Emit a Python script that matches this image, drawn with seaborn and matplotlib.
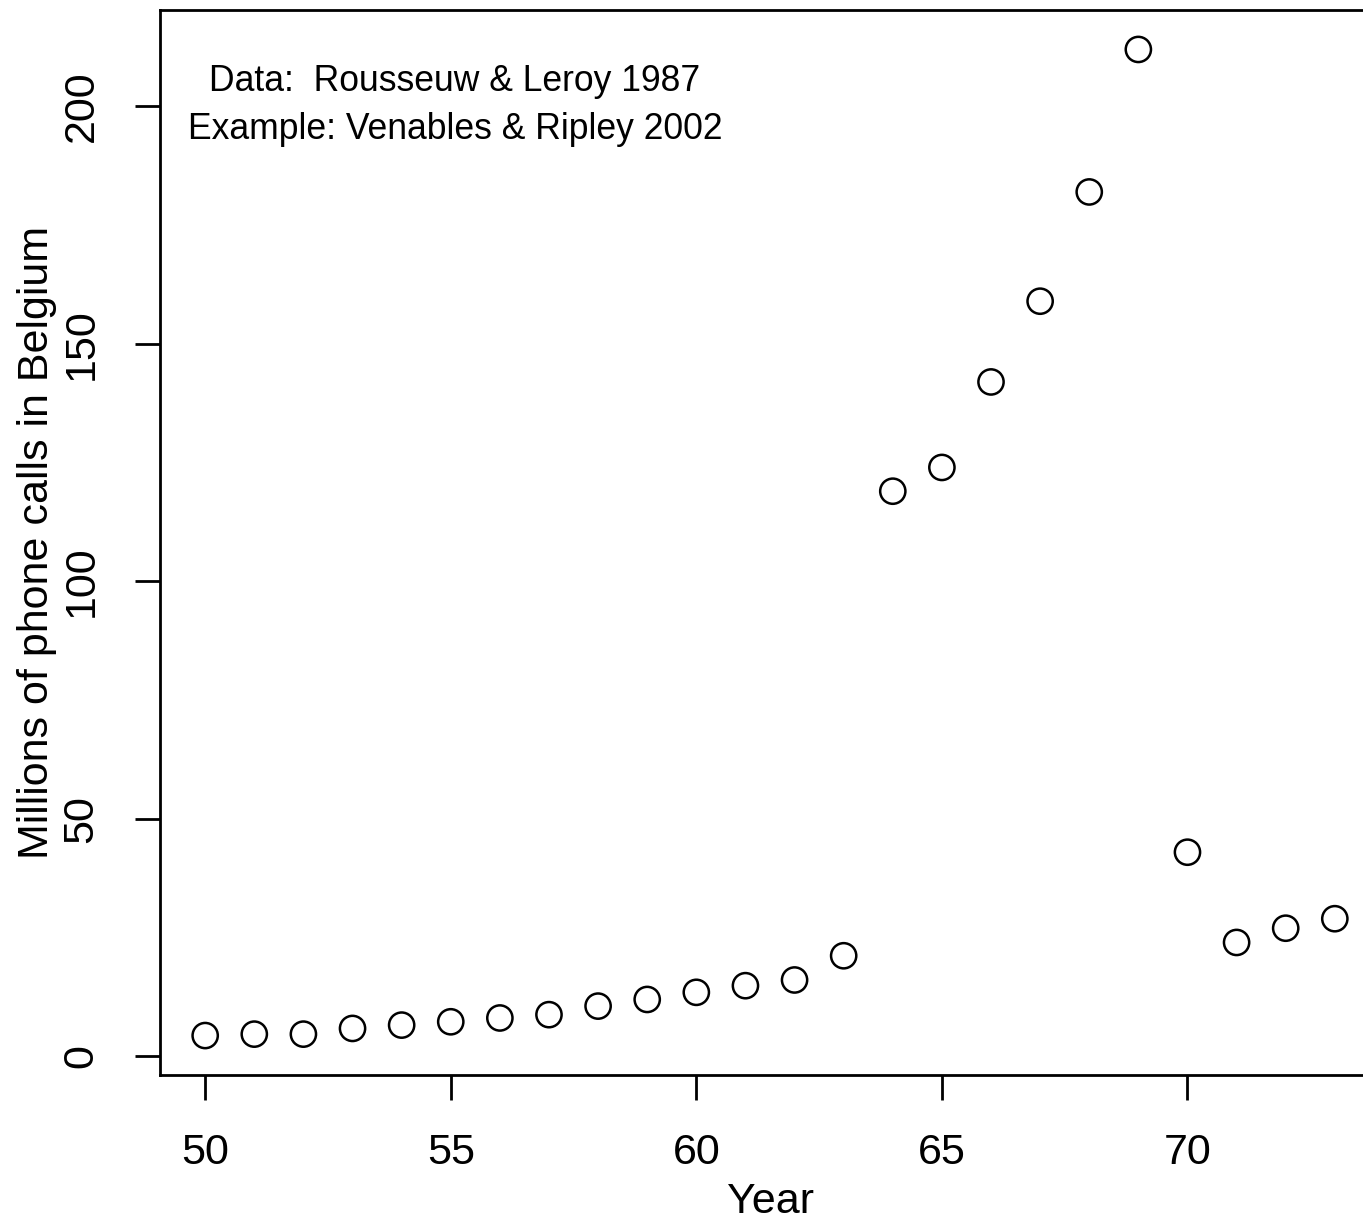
import matplotlib
matplotlib.use("Agg")
import matplotlib.pyplot as plt
import seaborn as sns
import pandas as pd

# phones data (MASS): year vs millions of calls
years = [50, 51, 52, 53, 54, 55, 56, 57, 58, 59, 60, 61,
         62, 63, 64, 65, 66, 67, 68, 69, 70, 71, 72, 73]
calls = [4.4, 4.7, 4.7, 5.9, 6.6, 7.3, 8.1, 8.8, 10.6, 12.0, 13.5, 14.9,
         16.1, 21.2, 119.0, 124.0, 142.0, 159.0, 182.0, 212.0, 43.0, 24.0, 27.0, 29.0]
x_ticks = [50, 55, 60, 65, 70]
y_ticks = [0, 50, 100, 150, 200]

sns.set_style("ticks")
plt.rcParams['font.family'] = ['Liberation Sans', 'DejaVu Sans']
plt.rcParams['text.color'] = "black"
plt.rcParams['axes.labelcolor'] = "black"

df = pd.DataFrame({"year": years, "calls": calls})

fig = plt.figure(figsize=(13.63, 12.25), dpi=100)
ax = fig.add_axes([160 / 1363, 150 / 1225, 1220 / 1363, 1065 / 1225])

sns.scatterplot(data=df, x="year", y="calls", ax=ax, s=330,
                facecolor="none", edgecolor="black", linewidth=1.8, zorder=3)

# R-style 4% padding
xr = max(years) - min(years)
yr = max(calls) - min(calls)
ax.set_xlim(min(years) - 0.04 * xr, max(years) + 0.04 * xr)
ax.set_ylim(min(calls) - 0.04 * yr, max(calls) + 0.04 * yr)

ax.set_xticks(x_ticks)
ax.set_yticks(y_ticks)
ax.tick_params(axis="both", direction="out", length=18, width=2,
               labelsize=31, colors="black")
ax.tick_params(axis="x", pad=24)
ax.tick_params(axis="y", pad=24)
for lab in ax.get_yticklabels():
    lab.set_rotation(90)
    lab.set_va("center")

for sp in ax.spines.values():
    sp.set_linewidth(2)
    sp.set_color("black")

ax.set_xlabel("Year", fontsize=31, labelpad=6)
ax.set_ylabel("Millions of phone calls in Belgium", fontsize=31, labelpad=3)

ax.text(0.2418, 0.9105, "Data:  Rousseuw & Leroy 1987\nExample: Venables & Ripley 2002",
        transform=ax.transAxes, ha="center", va="center", fontsize=25.6,
        linespacing=1.5, color="black")

fig.savefig("out.png", dpi=100)
